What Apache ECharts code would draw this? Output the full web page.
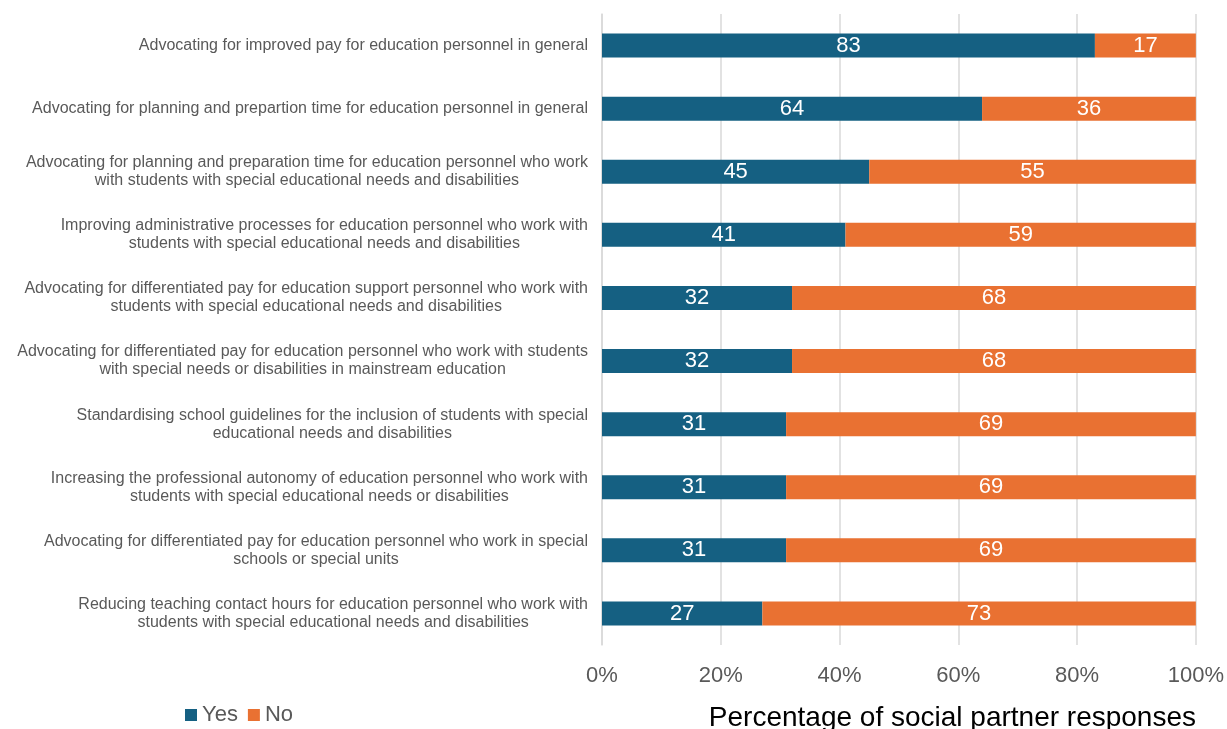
<!DOCTYPE html>
<html>
<head>
<meta charset="utf-8">
<script src="https://cdn.jsdelivr.net/npm/echarts@6/dist/echarts.min.js"></script>
<style>html,body{margin:0;padding:0;background:#fff;}#c{width:1227px;height:729px;}</style>
</head>
<body>
<div id="c"></div>
<script>
const categories = [
  "Advocating for improved pay for education personnel in general",
  "Advocating for planning and prepartion time for education personnel in general",
  "Advocating for planning and preparation time for education personnel who work\nwith students with special educational needs and disabilities",
  "Improving administrative processes for education personnel who work with\nstudents with special educational needs and disabilities",
  "Advocating for differentiated pay for education support personnel who work with\nstudents with special educational needs and disabilities",
  "Advocating for differentiated pay for education personnel who work with students\nwith special needs or disabilities in mainstream education",
  "Standardising school guidelines for the inclusion of students with special\neducational needs and disabilities",
  "Increasing the professional autonomy of education personnel who work with\nstudents with special educational needs or disabilities",
  "Advocating for differentiated pay for education personnel who work in special\nschools or special units",
  "Reducing teaching contact hours for education personnel who work with\nstudents with special educational needs and disabilities"
];
const yesValues = [83, 64, 45, 41, 32, 32, 31, 31, 31, 27];
const noValues  = [17, 36, 55, 59, 68, 68, 69, 69, 69, 73];
const xTicks = [0, 20, 40, 60, 80, 100];
const seriesNames = ["Yes", "No"];
const axisTitle = "Percentage of social partner responses";

const font = "Liberation Sans, Arial, sans-serif";
const chart = echarts.init(document.getElementById('c'), null, {renderer: 'canvas'});
const labelStyle = {show: true, position: 'inside', color: '#fff', fontSize: 22, fontFamily: font};
chart.setOption({
  animation: false,
  textStyle: {fontFamily: font},
  grid: {left: 602, right: 31, top: 14, bottom: 84, containLabel: false},
  title: {text: axisTitle, right: 26, top: 699, textStyle: {fontSize: 28, fontWeight: 'normal', color: '#000', fontFamily: font}},
  legend: {
    data: seriesNames, left: 180, top: 699, itemWidth: 12, itemHeight: 12, itemGap: 10,
    icon: 'rect', textStyle: {fontSize: 22, color: '#595959', fontFamily: font}
  },
  xAxis: {
    type: 'value', min: 0, max: 100, interval: 20,
    axisLabel: {formatter: v => xTicks.includes(v) ? v + '%' : '', fontSize: 22, color: '#595959', margin: 20, fontFamily: font},
    splitLine: {show: true, lineStyle: {color: '#d9d9d9', width: 1.5}},
    axisLine: {show: false}, axisTick: {show: false}
  },
  yAxis: {
    type: 'category', data: categories, inverse: true,
    axisLine: {show: true, lineStyle: {color: '#d9d9d9', width: 1.5}},
    axisTick: {show: false},
    axisLabel: {
      align: 'right', margin: 14,
      formatter: v => v.split('\n').map(l => '{c|' + l + '}').join('\n'),
      rich: {c: {align: 'center', fontSize: 16, lineHeight: 18, color: '#595959', fontFamily: font}}
    }
  },
  series: [
    {name: seriesNames[0], type: 'bar', stack: 't', data: yesValues, barWidth: 24,
      itemStyle: {color: '#156082'}, label: labelStyle},
    {name: seriesNames[1], type: 'bar', stack: 't', data: noValues, barWidth: 24,
      itemStyle: {color: '#E97132'}, label: labelStyle}
  ]
});
</script>
</body>
</html>
